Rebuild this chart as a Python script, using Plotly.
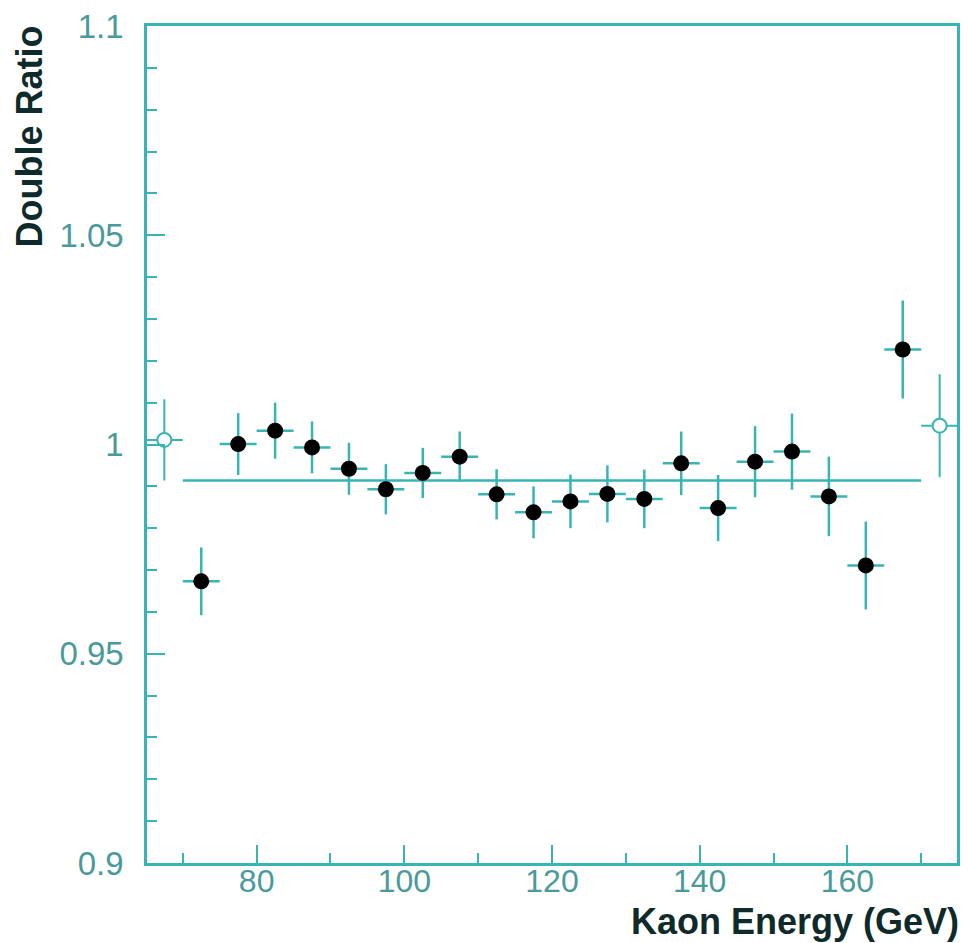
import plotly.graph_objects as go

# Data
energy = [72.5, 77.5, 82.5, 87.5, 92.5, 97.5, 102.5, 107.5, 112.5, 117.5,
          122.5, 127.5, 132.5, 137.5, 142.5, 147.5, 152.5, 157.5, 162.5, 167.5]
ratio = [0.9673, 1.0001, 1.0033, 0.9993, 0.9942, 0.9893, 0.9932, 0.9971, 0.9881, 0.9838,
         0.9864, 0.9882, 0.9870, 0.9955, 0.9848, 0.9959, 0.9983, 0.9876, 0.9711, 1.0227]
ratio_err = [0.0081, 0.0074, 0.0067, 0.0062, 0.0062, 0.0060, 0.0060, 0.0060, 0.0060, 0.0062,
             0.0064, 0.0068, 0.0070, 0.0076, 0.0079, 0.0085, 0.0091, 0.0095, 0.0105, 0.0117]
bin_half = 2.5

open_energy = [67.5, 172.5]
open_ratio = [1.0011, 1.0045]
open_err = [0.0097, 0.0123]

fit_x = [70, 170]
fit_y = [0.9914, 0.9914]

y_tickvals = [0.9, 0.95, 1.0, 1.05, 1.1]
y_ticktext = ["0.9", "0.95", "1", "1.05", "1.1"]
x_tickvals = [80, 100, 120, 140, 160]
x_ticktext = ["80", "100", "120", "140", "160"]

TEAL = "#38b4b4"
LABEL = "#4a9a9a"
TITLE = "#0e2a2a"
FONT = "Liberation Sans, Arial, sans-serif"

fig = go.Figure()

fig.add_trace(go.Scatter(
    x=fit_x, y=fit_y, mode="lines",
    line=dict(color=TEAL, width=2.5), showlegend=False, hoverinfo="skip"))

fig.add_trace(go.Scatter(
    x=open_energy, y=open_ratio, mode="markers",
    marker=dict(symbol="circle", size=14, color="white", line=dict(color=TEAL, width=2)),
    error_y=dict(type="data", array=open_err, color=TEAL, thickness=2, width=0),
    error_x=dict(type="constant", value=bin_half, color=TEAL, thickness=2, width=0),
    showlegend=False))

fig.add_trace(go.Scatter(
    x=energy, y=ratio, mode="markers",
    marker=dict(symbol="circle", size=16, color="black", line=dict(width=0)),
    error_y=dict(type="data", array=ratio_err, color=TEAL, thickness=2.5, width=0),
    error_x=dict(type="constant", value=bin_half, color=TEAL, thickness=2.5, width=0),
    showlegend=False))

fig.update_xaxes(
    range=[65.15, 174.85], showgrid=False, zeroline=False,
    showline=True, linecolor=TEAL, linewidth=2.5, mirror=True,
    ticks="inside", ticklen=18, tickwidth=2, tickcolor=TEAL,
    tickvals=x_tickvals, ticktext=x_ticktext,
    tickfont=dict(family=FONT, size=32, color=LABEL),
    ticklabelstandoff=-12,
    minor=dict(dtick=10, tick0=0, ticks="inside", ticklen=10, tickwidth=2, tickcolor=TEAL),
)
fig.update_yaxes(
    range=[0.9, 1.1], showgrid=False, zeroline=False,
    showline=True, linecolor=TEAL, linewidth=2.5, mirror=True,
    ticks="inside", ticklen=18, tickwidth=2, tickcolor=TEAL,
    tickvals=y_tickvals, ticktext=y_ticktext,
    tickfont=dict(family=FONT, size=33, color=LABEL),
    ticklabelstandoff=14,
    minor=dict(dtick=0.01, tick0=0.9, ticks="inside", ticklen=10, tickwidth=2, tickcolor=TEAL),
)

fig.add_annotation(
    text="<b>Double Ratio</b>", textangle=-90, showarrow=False,
    xref="paper", yref="paper", x=(29 - 147) / 813, y=1.0035,
    xanchor="center", yanchor="top",
    font=dict(family=FONT, size=36, color=TITLE))

fig.add_annotation(
    text="<b>Kaon Energy (GeV)</b>", showarrow=False,
    xref="paper", yref="paper", x=(964 - 147) / 813, y=(863 - 922) / 838,
    xanchor="right", yanchor="middle",
    font=dict(family=FONT, size=36, color=TITLE))

fig.update_layout(
    width=968, height=943,
    margin=dict(l=147, r=8, t=25, b=80, pad=0),
    paper_bgcolor="white", plot_bgcolor="white",
)

fig.write_html("out.html")
